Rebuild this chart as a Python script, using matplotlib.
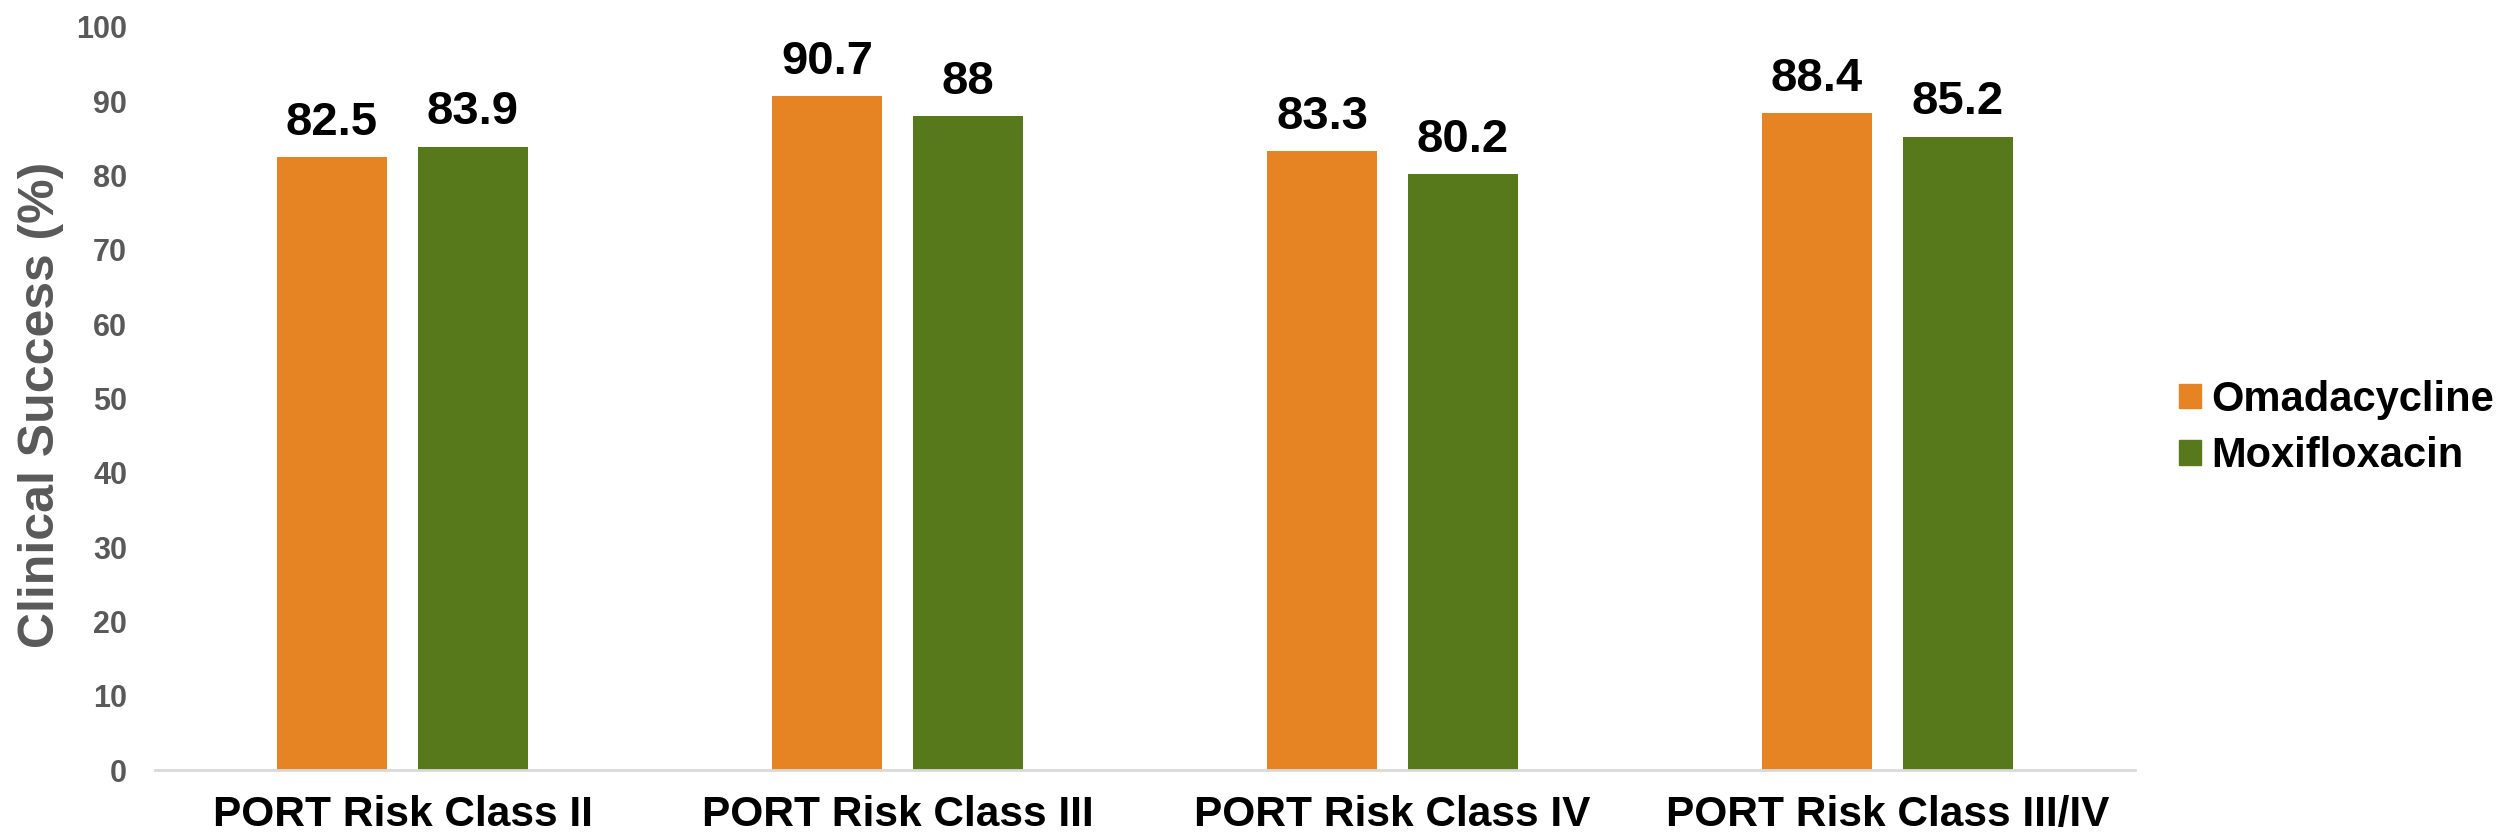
import matplotlib
matplotlib.use("Agg")
import matplotlib.pyplot as plt
import numpy as np
from matplotlib.patches import Patch

categories = ["PORT Risk Class II", "PORT Risk Class III", "PORT Risk Class IV", "PORT Risk Class III/IV"]
omadacycline = [82.5, 90.7, 83.3, 88.4]
moxifloxacin = [83.9, 88, 80.2, 85.2]
series_names = ["Omadacycline", "Moxifloxacin"]
yticks = [0, 10, 20, 30, 40, 50, 60, 70, 80, 90, 100]

plt.rcParams['font.family'] = ['Liberation Sans', 'DejaVu Sans']
plt.rcParams['font.weight'] = 'bold'

W, H = 2505, 838
fig = plt.figure(figsize=(W / 100, H / 100), dpi=100)
ax = fig.add_axes([155 / W, 1 - 770 / H, 1980 / W, (770 - 27) / H])

orange = "#E68323"
green = "#57781B"
x = np.arange(len(categories))
bw = 0.224
off = 0.1424
b1 = ax.bar(x - off, omadacycline, bw, color=orange, label=series_names[0], zorder=2)
b2 = ax.bar(x + off, moxifloxacin, bw, color=green, label=series_names[1], zorder=2)

for c in (b1, b2):
    ax.bar_label(c, labels=[f"{v:g}" for v in c.datavalues], padding=9,
                 fontsize=34, fontweight='bold', color='black')

ax.set_xlim(-0.5, len(categories) - 0.5)
ax.set_ylim(0, 100)
ax.set_yticks(yticks)
ax.set_yticklabels([str(t) for t in yticks], fontsize=22, fontweight='bold', color='#595959')
ax.set_xticks(x)
ax.set_xticklabels(categories, fontsize=30.5, fontweight='bold', color='black')
ax.tick_params(axis='y', length=0, pad=20)
ax.tick_params(axis='x', length=0, pad=18)

for s in ['top', 'right', 'left']:
    ax.spines[s].set_visible(False)
ax.spines['bottom'].set_color('#D9D9D9')
ax.spines['bottom'].set_linewidth(2)

fig.text(41 / W, 1 - 405 / H, "Clinical Success (%)", rotation=90, ha='center', va='center',
         fontsize=36, fontweight='bold', color='#595959')

handles = [Patch(color=orange), Patch(color=green)]
fig.legend(handles, series_names, loc='center left', bbox_to_anchor=(2179 / W, 1 - 428 / H),
           frameon=False, handlelength=0.53, handleheight=0.53,
           handletextpad=0.24, labelspacing=0.4, borderpad=0, borderaxespad=0,
           prop={'weight': 'bold', 'size': 30})

fig.savefig("out.png", dpi=100)
